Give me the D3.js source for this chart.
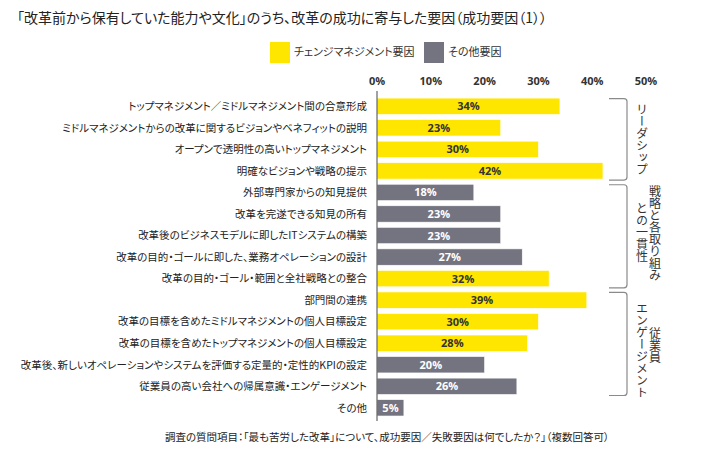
<!DOCTYPE html>
<html><head><meta charset="utf-8">
<script src="https://cdn.jsdelivr.net/npm/d3@7"></script>
<style>
body{margin:0;background:#fff;}
svg text{font-family:"Noto Sans CJK JP","Noto Sans",sans-serif;font-feature-settings:"palt";}
</style></head><body>
<svg id="c" width="708" height="457"></svg>
<script>
const title = "「改革前から保有していた能力や文化」のうち、改革の成功に寄与した要因（成功要因（1））";
const footer = "調査の質問項目：「最も苦労した改革」について、成功要因／失敗要因は何でしたか？」（複数回答可）";
const seriesNames = ["チェンジマネジメント要因", "その他要因"];
const categories = [
  "トップマネジメント／ミドルマネジメント間の合意形成",
  "ミドルマネジメントからの改革に関するビジョンやベネフィットの説明",
  "オープンで透明性の高いトップマネジメント",
  "明確なビジョンや戦略の提示",
  "外部専門家からの知見提供",
  "改革を完遂できる知見の所有",
  "改革後のビジネスモデルに即したITシステムの構築",
  "改革の目的・ゴールに即した、業務オペレーションの設計",
  "改革の目的・ゴール・範囲と全社戦略との整合",
  "部門間の連携",
  "改革の目標を含めたミドルマネジメントの個人目標設定",
  "改革の目標を含めたトップマネジメントの個人目標設定",
  "改革後、新しいオペレーションやシステムを評価する定量的・定性的KPIの設定",
  "従業員の高い会社への帰属意識・エンゲージメント",
  "その他"
];
const values = [34, 23, 30, 42, 18, 23, 23, 27, 32, 39, 30, 28, 20, 26, 5];
const seriesOf = [0, 0, 0, 0, 1, 1, 1, 1, 0, 0, 0, 0, 1, 1, 1];
const ticks = [0, 10, 20, 30, 40, 50];
const groupFirst = [0, 4, 9];
const groupLast = [3, 8, 13];
const groupCols = [["リーダシップ"], ["戦略と各取り組み", "との一貫性"], ["従業員", "エンゲージメント"]];

const colors = ["#FFE600", "#747480"];
const svg = d3.select("#c");

const x = d3.scaleLinear().domain([0, 50]).range([377, 646]);
const y = d3.scaleBand().domain(categories).range([95.5, 418.6]).paddingInner(0.24).paddingOuter(0.12);

// title
svg.append("text").attr("x", 17).attr("y", 23).attr("font-size", 14).attr("fill", "#222").text(title);

// legend
const lg = [{x: 270, tx: 294}, {x: 424, tx: 448}];
seriesNames.forEach((n, i) => {
  svg.append("rect").attr("x", lg[i].x).attr("y", 42).attr("width", 20).attr("height", 21).attr("fill", colors[i]);
  svg.append("text").attr("x", lg[i].tx).attr("y", 56).attr("font-size", 11).attr("fill", "#333").text(n);
});

// top axis labels
svg.append("g").selectAll("text").data(ticks).join("text")
  .attr("x", d => x(d)).attr("y", 85).attr("text-anchor", "middle")
  .attr("font-size", 11).attr("font-weight", "bold").attr("fill", "#333")
  .style("font-family", "'Open Sans','DejaVu Sans',sans-serif")
  .text(d => d + "%");

// bars
svg.append("g").selectAll("rect").data(categories).join("rect")
  .attr("x", x(0)).attr("y", d => y(d)).attr("height", y.bandwidth())
  .attr("width", (d, i) => x(values[i]) - x(0))
  .attr("fill", (d, i) => colors[seriesOf[i]])
  .attr("stroke", "#fff").attr("stroke-width", 0.6);

// value labels
svg.append("g").selectAll("text").data(categories).join("text")
  .attr("x", (d, i) => (x(0) + x(values[i])) / 2)
  .attr("y", d => y(d) + y.bandwidth() / 2 + 4)
  .attr("text-anchor", "middle").attr("font-size", 11).attr("font-weight", "bold")
  .style("font-family", "'Open Sans','DejaVu Sans',sans-serif")
  .attr("fill", (d, i) => seriesOf[i] === 0 ? "#333" : "#fff")
  .text((d, i) => values[i] + "%");

// axis line
svg.append("line").attr("x1", x(0)).attr("x2", x(0)).attr("y1", 91).attr("y2", 421)
  .attr("stroke", "#444").attr("stroke-width", 1);

// category labels
svg.append("g").selectAll("text").data(categories).join("text")
  .attr("x", 367).attr("y", d => y(d) + y.bandwidth() / 2 + 3.8)
  .attr("text-anchor", "end").attr("font-size", 10.5).attr("fill", "#222")
  .text(d => d);

// group brackets and vertical labels
const colOffsets = [[5], [1, 18], [35, 10]];
groupFirst.forEach((f, gi) => {
  const y0 = y(categories[f]) + 0.5;
  const y1 = y(categories[groupLast[gi]]) + y.bandwidth() + 1;
  const xl = 609, xr = 627, r = 3;
  svg.append("path")
    .attr("d", `M${xl},${y0}H${xr - r}Q${xr},${y0} ${xr},${y0 + r}V${y1 - r}Q${xr},${y1} ${xr - r},${y1}H${xl}`)
    .attr("fill", "none").attr("stroke", "#8a8a8a").attr("stroke-width", 1.2);
  const cols = groupCols[gi];
  cols.forEach((c, k) => {
    const cx = cols.length === 1 ? 642 : (k === 0 ? 655 : 642);
    svg.append("text").attr("x", cx).attr("y", y0 + colOffsets[gi][k])
      .style("writing-mode", "vertical-rl")
      .attr("font-size", 12).attr("fill", "#333").text(c);
  });
});

// footer
svg.append("text").attr("x", 165).attr("y", 441).attr("font-size", 10.5).attr("fill", "#222").text(footer);
</script>
</body></html>
